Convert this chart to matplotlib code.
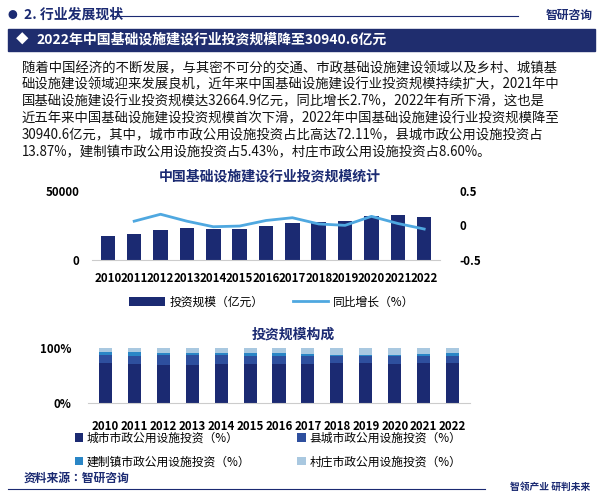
import matplotlib
matplotlib.use("Agg")
import matplotlib.pyplot as plt
import numpy as np
from matplotlib.patches import Rectangle

plt.rcParams['font.family'] = 'Noto Sans CJK JP'

years = ['2010','2011','2012','2013','2014','2015','2016','2017','2018','2019','2020','2021','2022']
invest = [17600,19000,21700,23100,22600,22400,24300,26700,27100,27900,31400,32664.9,30940.6]
growth = [0.06,0.16,0.06,-0.02,-0.01,0.07,0.11,0.02,0.0,0.13,0.027,-0.053]
city = [73,71,70,70,71,71,71,71,72,72,71,72,72.11]
county = [14,15,17,17,16,14,15,14,13,14,14,13,13.87]
town = [6,6,4,4,4,6,5,5,3,2,3,5,5.43]
village = [7,8,9,9,9,9,9,10,12,12,12,10,8.60]

NAVY = '#1b2a72'
C1, C2, C3, C4 = '#1b2a72', '#2e4f9e', '#2a86c6', '#a9c8e0'
LINEC = '#4fa8e0'

W, H = 603, 500
fig = plt.figure(figsize=(W/100, H/100), dpi=100)
def fy(y): return 1 - y/H
def fx(x): return x/W

# header
fig.text(fx(8), fy(15), '●', color=NAVY, fontsize=7, va='center')
fig.text(fx(24), fy(15), '2. 行业发展现状', color=NAVY, fontsize=10, fontweight='bold', va='center')
fig.add_artist(plt.Line2D([fx(112), fx(518)], [fy(16), fy(16)], color=NAVY, lw=0.8))
fig.text(fx(593), fy(15), '智研咨询', color=NAVY, fontsize=8.5, fontweight='bold', va='center', ha='right')
fig.add_artist(Rectangle((fx(8), fy(51)), fx(587), 22/H, transform=fig.transFigure, color='#1f2d6e'))
fig.text(fx(16), fy(40), '◆', color='white', fontsize=9, va='center')
fig.text(fx(36), fy(40), '2022年中国基础设施建设行业投资规模降至30940.6亿元', color='white', fontsize=10, fontweight='bold', va='center')

para = ['随着中国经济的不断发展，与其密不可分的交通、市政基础设施建设领域以及乡村、城镇基',
        '础设施建设领域迎来发展良机，近年来中国基础设施建设行业投资规模持续扩大，2021年中',
        '国基础设施建设行业投资规模达32664.9亿元，同比增长2.7%，2022年有所下滑，这也是',
        '近五年来中国基础设施建设投资规模首次下滑，2022年中国基础设施建设行业投资规模降至',
        '30940.6亿元，其中，城市市政公用设施投资占比高达72.11%，县城市政公用设施投资占',
        '13.87%，建制镇市政公用设施投资占5.43%，村庄市政公用设施投资占8.60%。']
for i, l in enumerate(para):
    fig.text(fx(22), fy(68 + i*16.7), l, fontsize=9.6, va='center', color='#111111')

# top chart
ax = fig.add_axes([fx(92), fy(260), (440-92)/W, (260-190.7)/H])
x = np.arange(len(years))
ax.bar(x, invest, width=0.55, color=C1, label='投资规模（亿元）')
ax.set_ylim(0, 50000)
ax.set_yticks([0, 50000])
ax.set_xlim(-0.6, len(years)-0.4)
ax.set_xticks(x)
ax.set_xticklabels(years, fontsize=8.3, fontweight='bold')
ax.tick_params(length=0, labelsize=8.3, pad=9)
for t in ax.get_yticklabels(): t.set_fontweight('bold')
for s in ['top','right','left']: ax.spines[s].set_visible(False)
ax.spines['bottom'].set_color('#cccccc')
ax.patch.set_alpha(0)
ax2 = ax.twinx()
ax2.plot(x[1:], growth, color=LINEC, lw=2, label='同比增长（%）')
ax2.set_ylim(-0.5, 0.5)
ax2.set_yticks([-0.5, 0, 0.5])
ax2.set_yticklabels(['-0.5', '0', '0.5'], fontsize=8.3, fontweight='bold')
ax2.tick_params(length=0, pad=14)
for s in ax2.spines.values(): s.set_visible(False)
fig.text(fx(270), fy(177), '中国基础设施建设行业投资规模统计', color=NAVY, fontsize=10, fontweight='bold', ha='center', va='center')
h1, l1 = ax.get_legend_handles_labels(); h2, l2 = ax2.get_legend_handles_labels()
fig.legend(h1+h2, l1+l2, loc='center', bbox_to_anchor=(fx(272), fy(302)), ncol=2, frameon=False,
           fontsize=8.5, handlelength=3, columnspacing=2.5, handletextpad=0.4)

# bottom chart
bx = fig.add_axes([fx(88), fy(403), (470-88)/W, (403-348)/H])
bottom = np.zeros(len(years))
labels = ['城市市政公用设施投资（%）', '县城市政公用设施投资（%）', '建制镇市政公用设施投资（%）', '村庄市政公用设施投资（%）']
hs = []
for vals, c, lab in zip([city, county, town, village], [C1, C2, C3, C4], labels):
    b = bx.bar(x, vals, bottom=bottom, width=0.45, color=c, label=lab)
    hs.append(b)
    bottom += np.array(vals)
bx.set_ylim(0, 100)
bx.set_yticks([0, 100])
bx.set_yticklabels(['0%', '100%'], fontweight='bold')
bx.set_xlim(-0.6, len(years)-0.4)
bx.set_xticks(x)
bx.set_xticklabels(years, fontweight='bold')
bx.tick_params(length=0, labelsize=8.3, pad=12)
for s in ['top','right','left']: bx.spines[s].set_visible(False)
bx.spines['bottom'].set_color('#cccccc')
fig.text(fx(293), fy(335), '投资规模构成', color=NAVY, fontsize=10, fontweight='bold', ha='center', va='center')
fig.legend([hs[0], hs[2], hs[1], hs[3]], [labels[0], labels[2], labels[1], labels[3]], loc='center',
           bbox_to_anchor=(fx(268), fy(450)), ncol=2,
           frameon=False, fontsize=8.5, handlelength=0.7, handleheight=0.7, columnspacing=4, handletextpad=0.3, labelspacing=0.9)

fig.text(fx(24), fy(478), '资料来源：智研咨询', color=NAVY, fontsize=8.5, fontweight='bold', va='center')
fig.add_artist(plt.Line2D([fx(8), fx(485)], [fy(489), fy(489)], color=NAVY, lw=0.8))
fig.text(fx(590), fy(487), '智领产业 研判未来', color=NAVY, fontsize=7, fontweight='bold', va='center', ha='right')

fig.savefig('out.png', dpi=100)
